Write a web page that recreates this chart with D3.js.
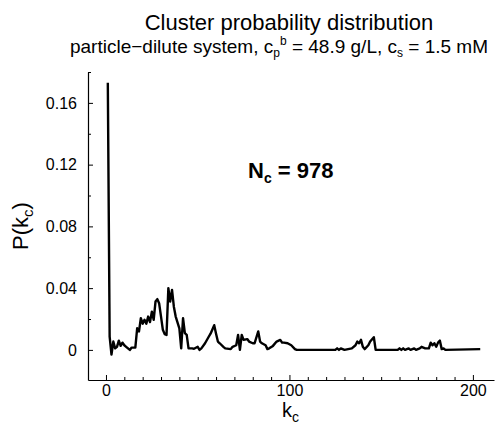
<!DOCTYPE html>
<html><head><meta charset="utf-8">
<script src="https://cdn.jsdelivr.net/npm/d3@7"></script>
<style>
body{margin:0;background:#fff}
text{font-family:"Liberation Sans",Arial,Helvetica,sans-serif;fill:#000}
</style>
</head><body>
<svg id="chart" width="495" height="426"></svg>
<script>
// ---- data ----
const kc = [1,2,3,4,5,6,7,8,9,10,11,13,14,16,17,18,19,20,21,22,23,24,25,26,27,28,29,30,31,32,33,34,35,36,37,38,40,41,42,43,44,45,47,48,50,51,52,54,56,57,59,60,61,62,64,65,68,69,71,72,73,74,75,77,78,80,81,83,84,85,87,88,89,91,93,95,96,97,99,101,103,104,125,126,127,128,130,134,136,137,138,139,140,141,143,144,146,147,159,160,161,162,163,165,166,168,169,171,172,174,176,177,178,179,180,181,182,183,184,185,204];
const pk = [0.173,0.0086,-0.003,0.0054,0.001,0.002,0.006,0.0026,0.0047,0.003,0.002,0.0,0.0015,0.0015,0.014,0.012,0.0205,0.017,0.0195,0.017,0.0216,0.018,0.0248,0.0195,0.0313,0.0329,0.030,0.0216,0.013,0.0102,0.0097,0.040,0.0313,0.0389,0.028,0.0216,0.014,0.001,0.0205,0.0108,0.0097,0.001,0.001,0.0007,0.002,0.0,0.001,0.0043,0.0085,0.0105,0.016,0.0105,0.0054,0.0043,0.002,0.001,0.0005,0.002,0.003,0.0097,0.0,0.0097,0.0065,0.007,0.0054,0.0043,0.0043,0.012,0.0054,0.0043,0.003,0.0005,0.001,0.0026,0.0054,0.0065,0.0047,0.0047,0.0043,0.003,0.0005,0.0,0.0,0.001,0.0,0.001,0.0,0.001,0.003,0.0054,0.0043,0.0065,0.002,0.0005,0.003,0.0054,0.0082,0.0,0.0,0.001,0.0,0.001,0.0,0.001,0.0,0.001,0.0,0.001,0.002,0.001,0.001,0.0047,0.003,0.0043,0.002,0.0047,0.006,0.0005,0.001,0.0,0.0005];
const xMajorTicks = [0,100,200];
const xMinorTicks = [10,20,30,40,50,60,70,80,90,110,120,130,140,150,160,170,180,190];
const yMajorTicks = [0,0.04,0.08,0.12,0.16];
const yTickLabels = ["0","0.04","0.08","0.12","0.16"];
const yMinorTicks = [0.02,0.06,0.10,0.14,0.18];
const titleText = "Cluster probability distribution";
const annotNum = "978";

// ---- layout ----
const svg = d3.select("#chart");
const x = d3.scaleLinear().domain([-9.8, 211.5]).range([88, 494]);
const y = d3.scaleLinear().domain([-0.0195, 0.18]).range([380, 72]);

// data line
const pts = kc.map((k,i)=>[k,pk[i]]);
svg.append("path")
  .datum(pts)
  .attr("fill","none")
  .attr("stroke","#000")
  .attr("stroke-width",2.4)
  .attr("stroke-linejoin","round")
  .attr("d", d3.line().x(d=>x(d[0])).y(d=>y(d[1])));

// x axis
const gx = svg.append("g").attr("transform","translate(0,380)");
gx.call(d3.axisBottom(x).tickValues(xMajorTicks).tickFormat(d3.format("d"))
  .tickSizeInner(-5).tickSizeOuter(0).tickPadding(5));
gx.append("g").call(d3.axisBottom(x).tickValues(xMinorTicks).tickFormat("")
  .tickSizeInner(-3).tickSizeOuter(0)).select(".domain").remove();
// y axis
const gy = svg.append("g").attr("transform","translate(88,0)");
gy.call(d3.axisLeft(y).tickValues(yMajorTicks).tickFormat((d,i)=>yTickLabels[i])
  .tickSizeInner(-5).tickSizeOuter(0).tickPadding(11));
gy.append("g").call(d3.axisLeft(y).tickValues(yMinorTicks).tickFormat("")
  .tickSizeInner(-3).tickSizeOuter(0)).select(".domain").remove();

svg.selectAll(".domain").attr("stroke","#000").attr("stroke-width",1.2);
svg.selectAll(".tick line").attr("stroke","#000").attr("stroke-width",1);
svg.selectAll(".tick text").attr("font-size",16).attr("font-family","Liberation Sans, Arial, sans-serif").attr("fill","#000");

// titles
svg.append("text").attr("x",289).attr("y",30).attr("text-anchor","middle")
  .attr("font-size",22).text(titleText);
const sub = svg.append("text").attr("x",279).attr("y",53).attr("text-anchor","middle").attr("font-size",19);
sub.append("tspan").text("particle\u2212dilute system, c");
sub.append("tspan").attr("font-size",12).attr("dy",4).text("p");
sub.append("tspan").attr("font-size",12).attr("dy",-12).text("b");
sub.append("tspan").attr("dy",8).text("  = 48.9 g/L, c");
sub.append("tspan").attr("font-size",12).attr("dy",4).text("s");
sub.append("tspan").attr("dy",-4).text(" = 1.5 mM");

// annotation
const an = svg.append("text").attr("x",248).attr("y",178).attr("font-size",22).attr("font-weight","bold");
an.append("tspan").text("N");
an.append("tspan").attr("font-size",14).attr("dy",5).text("c");
an.append("tspan").attr("dy",-5).text(" = " + annotNum);

// axis labels
const xl = svg.append("text").attr("x",282).attr("y",417).attr("font-size",20);
xl.append("tspan").text("k");
xl.append("tspan").attr("font-size",14).attr("dy",5).text("c");

const yl = svg.append("text").attr("transform","translate(28,226) rotate(-90)").attr("text-anchor","middle").attr("font-size",22);
yl.append("tspan").text("P(k");
yl.append("tspan").attr("font-size",15).attr("dy",5).text("c");
yl.append("tspan").attr("dy",-5).text(")");
</script>
</body></html>
